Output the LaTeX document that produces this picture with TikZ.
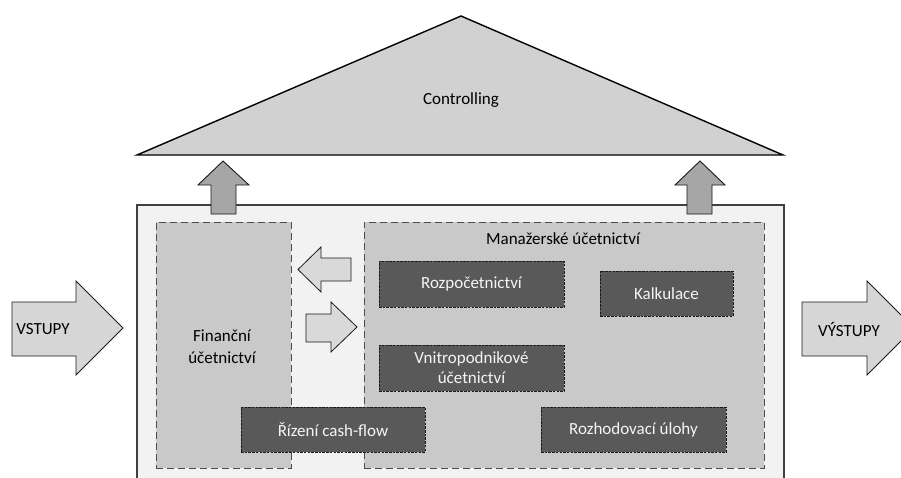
\documentclass[tikz,border=0pt]{standalone}
\usepackage{fontspec}
\setmainfont{Carlito}
\begin{document}
\begin{tikzpicture}[x=1pt,y=-1pt,
  font=\fontsize{17}{22}\selectfont,
  roof/.style={draw=black,line width=1.4pt,fill=black!18,line join=miter},
  house/.style={draw=black!75,line width=1.3pt,fill=black!5},
  zone/.style={draw=black!70,line width=0.9pt,dash pattern=on 7pt off 4pt,fill=black!21,
    inner sep=0pt,align=center},
  task/.style={draw=black!90,line width=0.9pt,dash pattern=on 2.5pt off 1.2pt,fill=black!65,
    text=black!4,inner sep=0pt,align=center},
  bigarrow/.style={draw=black!90,line width=0.9pt,fill=black!16,line join=miter},
  uparrow/.style={draw=black!90,line width=0.9pt,fill=black!35,line join=miter},
  sidearrow/.style={draw=black!90,line width=0.8pt,fill=black!15,line join=miter},
  label/.style={inner sep=0pt,align=center}]
\useasboundingbox (0,0) rectangle (901,477);

% roof: controlling
\draw[roof] (137,155) -- (461,16) -- (783,155) -- cycle;
\node[label] (controlling) at (461,100) {Controlling};

% body of the house
\draw[house] (137,205) rectangle (784,490);

% arrows towards controlling
\draw[uparrow] (211,214) -- (211,185) -- (198,185) -- (223,161) -- (249,185) -- (236,185) -- (236,214) -- cycle;
\draw[uparrow] (687,214) -- (687,185) -- (675,185) -- (700,161) -- (725,185) -- (712,185) -- (712,214) -- cycle;

% inputs and outputs
\draw[bigarrow] (12,302) -- (76,302) -- (76,281) -- (123,328) -- (76,375) -- (76,356) -- (12,356) -- cycle;
\node[label] (vstupy) at (43,329) {VSTUPY};
\draw[bigarrow] (802,302) -- (867,302) -- (867,281) -- (914,328) -- (867,375) -- (867,356) -- (802,356) -- cycle;
\node[label] (vystupy) at (849,329) {VÝSTUPY};

% financial and managerial accounting zones
\node[zone,minimum width=135pt,minimum height=246pt] (fin) at (223.5,345) {};
\node[label] (fintext) at (222,347) {Finanční\\účetnictví};
\node[zone,minimum width=400pt,minimum height=246pt] (man) at (564,345) {};
\node[label] (mantext) at (563,239) {Manažerské účetnictví};

% exchange between the two zones
\draw[sidearrow] (351,258) -- (321,258) -- (321,247) -- (298,269.5) -- (321,292) -- (321,281) -- (351,281) -- cycle;
\draw[sidearrow] (306,314) -- (331,314) -- (331,302) -- (357,327) -- (331,352) -- (331,342) -- (306,342) -- cycle;

% tasks
\node[task,minimum width=185pt,minimum height=46pt] (rozp) at (471.5,284) {Rozpočetnictví};
\node[task,minimum width=133pt,minimum height=45pt] (kalk) at (666.5,293.5) {Kalkulace};
\node[task,minimum width=185pt,minimum height=46pt] (vnitro) at (471.5,368) {Vnitropodnikové\\[-2pt]účetnictví};
\node[task,minimum width=185pt,minimum height=45pt] (rozh) at (633.5,429.5) {Rozhodovací úlohy};
\node[task,minimum width=184pt,minimum height=45pt] (cash) at (333,429.5) {Řízení cash-flow};
\end{tikzpicture}
\end{document}
